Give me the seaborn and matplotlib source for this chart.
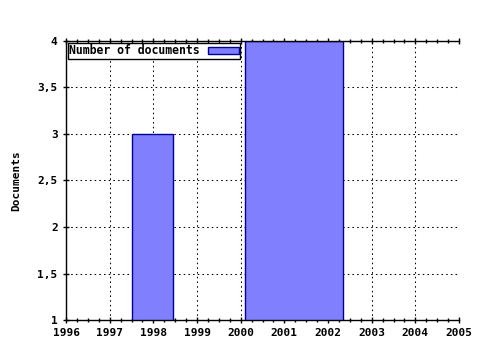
import matplotlib
matplotlib.use("Agg")
import matplotlib.pyplot as plt
from matplotlib.ticker import MultipleLocator, FuncFormatter
import seaborn as sns
import pandas as pd

# Data
bin_edges = [1997.5, 1998.45, 2000.1, 2002.35]
bar_centers = [1997.975, 1999.275, 2001.225]
bar_values = [3, 0, 4]
series_label = "Number of documents"
y_label = "Documents"

sns.set_style("white")
plt.rcParams['font.family'] = ['DejaVu Sans Mono']
plt.rcParams['font.weight'] = 'bold'
plt.rcParams['text.color'] = 'black'
plt.rcParams['axes.labelcolor'] = 'black'

df = pd.DataFrame({"year": bar_centers, "docs": bar_values})

fig = plt.figure(figsize=(4.8, 3.5), dpi=100)
ax = fig.add_axes([0.1375, 0.0857, 0.8188, 0.7972])

sns.histplot(data=df, x="year", weights="docs", bins=bin_edges, ax=ax,
             color="#8080ff", alpha=1, edgecolor="#000099", linewidth=1,
             label=series_label)

ax.set_xlim(1996, 2005)
ax.set_ylim(1, 4)
ax.xaxis.set_major_locator(MultipleLocator(1))
ax.xaxis.set_minor_locator(MultipleLocator(0.25))
ax.yaxis.set_major_locator(MultipleLocator(0.5))
ax.yaxis.set_major_formatter(FuncFormatter(lambda v, p: (f"{v:g}").replace(".", ",")))
ax.xaxis.set_major_formatter(FuncFormatter(lambda v, p: f"{int(round(v))}"))

ax.set_axisbelow(True)
ax.grid(True, which="major", color="black", linestyle=(0, (1.5, 3)), linewidth=0.75)

for s in ax.spines.values():
    s.set_color("black")
    s.set_linewidth(1)
ax.spines["right"].set_visible(False)

ax.tick_params(axis="x", which="both", direction="inout", top=True, bottom=True,
               labelsize=8, length=4, width=1, colors="black")
ax.tick_params(axis="x", which="minor", length=3)
ax.tick_params(axis="y", which="both", direction="inout", left=True, labelsize=8,
               length=5, width=1, colors="black")

ax.set_xlabel("")
ax.set_ylabel(y_label, fontsize=8, fontweight="bold", labelpad=12)

leg = ax.legend(loc="upper left", markerfirst=False, fontsize=8.3, frameon=True,
                fancybox=False, borderpad=0.1, borderaxespad=0.2,
                handlelength=2.7, handleheight=0.6, handletextpad=0.7)
leg.get_frame().set_edgecolor("black")
leg.get_frame().set_linewidth(1)
leg.get_frame().set_alpha(1)

fig.savefig("out.png", dpi=100)
